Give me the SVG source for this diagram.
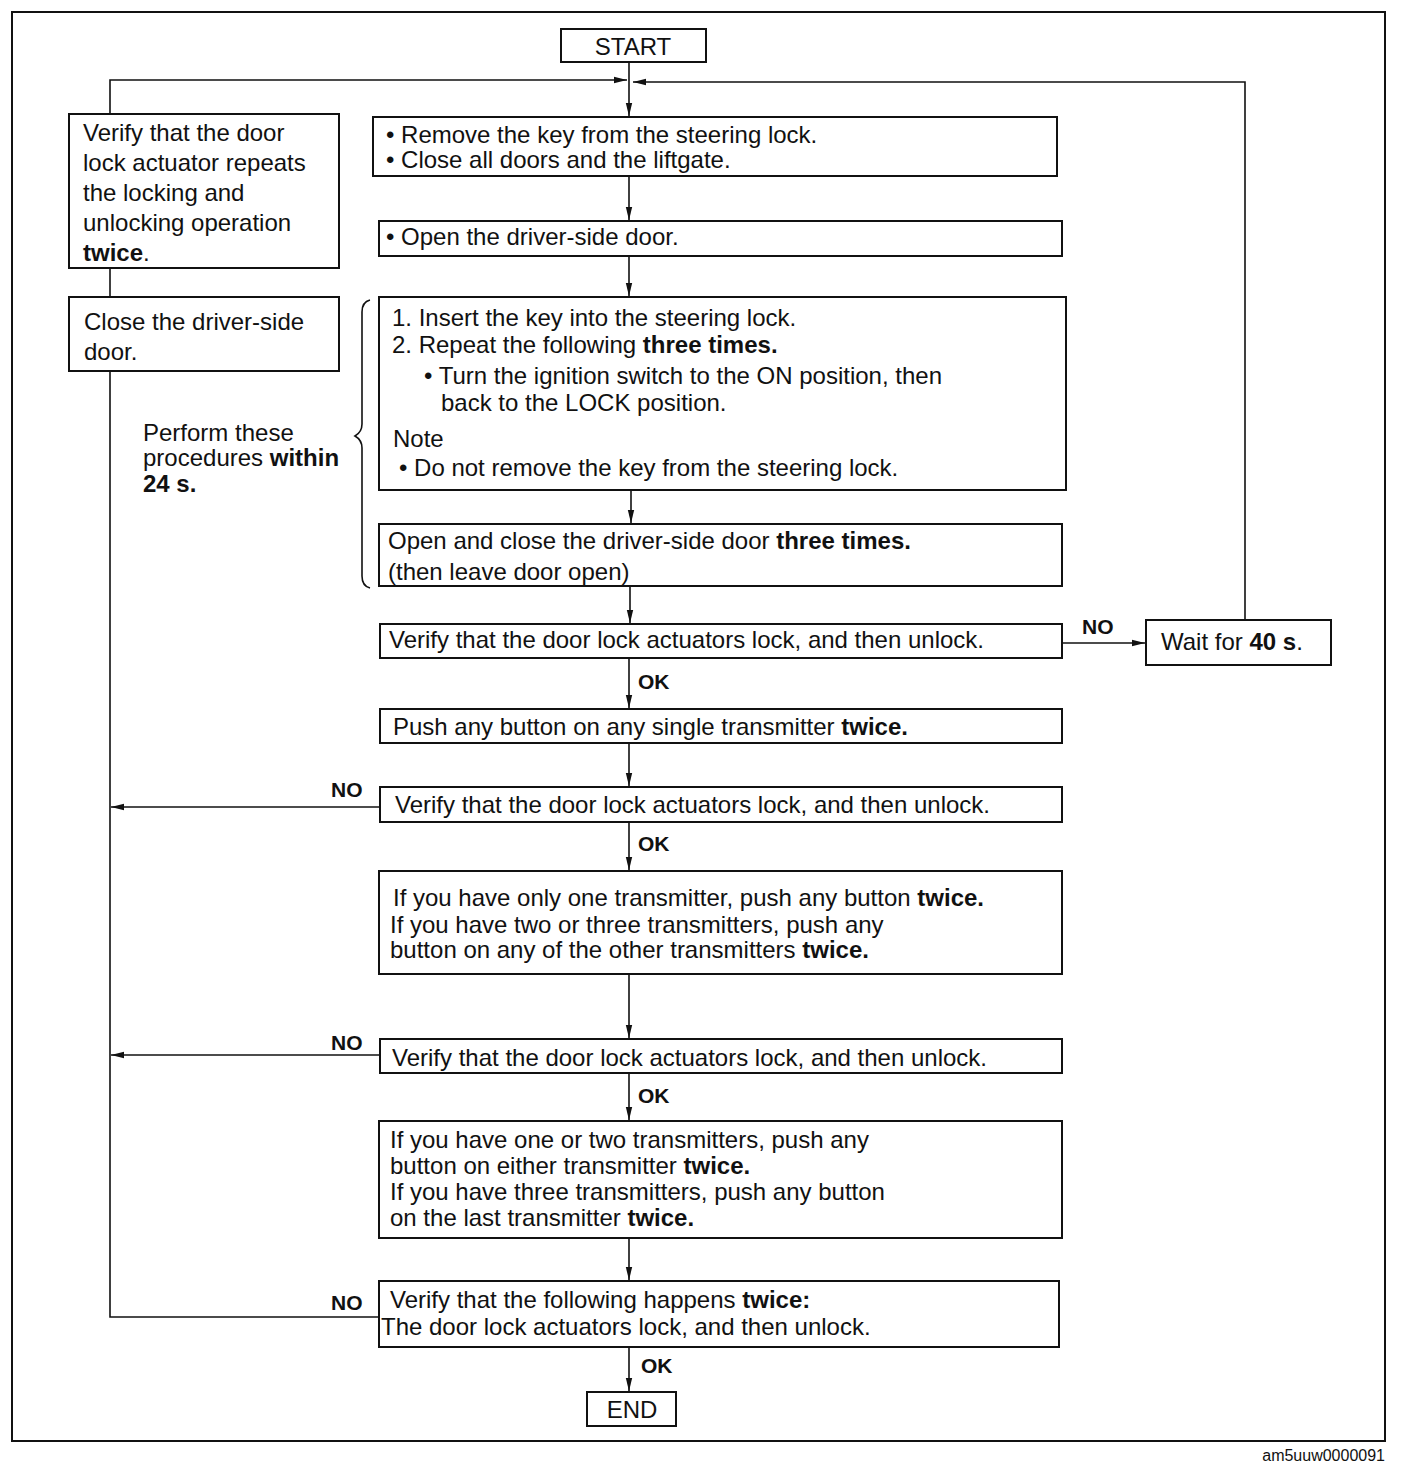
<svg xmlns="http://www.w3.org/2000/svg" width="1408" height="1466" viewBox="0 0 1408 1466">
<defs>
<style>
text{font-family:"Liberation Sans",Arial,sans-serif;font-size:24px;fill:#111}
.b{font-weight:bold}
.lbl{font-size:21px;font-weight:bold}
.box{fill:#fff;stroke:#111;stroke-width:2}
.ln{fill:none;stroke:#111;stroke-width:1.6}
.code{font-size:16px}
</style>
<marker id="ah" markerUnits="userSpaceOnUse" markerWidth="14" markerHeight="8" refX="13" refY="4" orient="auto">
<path d="M0,0.8 L13,4 L0,7.2 Z" fill="#111"/>
</marker>
</defs>
<rect x="0" y="0" width="1408" height="1466" fill="#fff"/>
<rect x="12" y="12" width="1373" height="1429" fill="none" stroke="#111" stroke-width="2"/>

<g id="connectors">
<path class="ln" d="M629,62 V116" marker-end="url(#ah)"/>
<path class="ln" d="M110,114 V80 H627" marker-end="url(#ah)"/>
<path class="ln" d="M1245,620 V82 H633" marker-end="url(#ah)"/>
<path class="ln" d="M629,176 V220" marker-end="url(#ah)"/>
<path class="ln" d="M629,256 V296" marker-end="url(#ah)"/>
<path class="ln" d="M631,490 V523" marker-end="url(#ah)"/>
<path class="ln" d="M630,586 V623" marker-end="url(#ah)"/>
<path class="ln" d="M1062,643 H1145" marker-end="url(#ah)"/>
<path class="ln" d="M629,658 V708" marker-end="url(#ah)"/>
<path class="ln" d="M629,743 V786" marker-end="url(#ah)"/>
<path class="ln" d="M380,807 H111" marker-end="url(#ah)"/>
<path class="ln" d="M629,822 V870" marker-end="url(#ah)"/>
<path class="ln" d="M629,974 V1038" marker-end="url(#ah)"/>
<path class="ln" d="M380,1055 H111" marker-end="url(#ah)"/>
<path class="ln" d="M629,1073 V1120" marker-end="url(#ah)"/>
<path class="ln" d="M629,1238 V1280" marker-end="url(#ah)"/>
<path class="ln" d="M379,1317 H110 V371"/>
<path class="ln" d="M110,297 V268"/>
<path class="ln" d="M629,1347 V1391" marker-end="url(#ah)"/>
<text class="lbl" x="1082" y="634">NO</text>
<text class="lbl" x="638" y="689">OK</text>
<text class="lbl" x="331" y="797">NO</text>
<text class="lbl" x="638" y="851">OK</text>
<text class="lbl" x="331" y="1050">NO</text>
<text class="lbl" x="638" y="1103">OK</text>
<text class="lbl" x="331" y="1310">NO</text>
<text class="lbl" x="641" y="1373">OK</text>
</g>

<g id="start">
<rect class="box" x="561" y="29" width="145" height="33"/>
<text x="633" y="55" text-anchor="middle">START</text>
</g>

<g id="n1">
<rect class="box" x="373" y="117" width="684" height="59"/>
<text x="386" y="143">• Remove the key from the steering lock.</text>
<text x="386" y="168">• Close all doors and the liftgate.</text>
</g>

<g id="n2">
<rect class="box" x="379" y="221" width="683" height="35"/>
<text x="386" y="245">• Open the driver-side door.</text>
</g>

<g id="n3">
<rect class="box" x="379" y="297" width="687" height="193"/>
<text x="392" y="326">1. Insert the key into the steering lock.</text>
<text x="392" y="353">2. Repeat the following <tspan class="b">three times.</tspan></text>
<text x="424" y="384">• Turn the ignition switch to the ON position, then</text>
<text x="441" y="411">back to the LOCK position.</text>
<text x="393" y="447">Note</text>
<text x="399" y="476">• Do not remove the key from the steering lock.</text>
</g>

<g id="n4">
<rect class="box" x="379" y="524" width="683" height="62"/>
<text x="388" y="549">Open and close the driver-side door <tspan class="b">three times.</tspan></text>
<text x="388" y="580">(then leave door open)</text>
</g>

<g id="brace">
<path class="ln" stroke-width="2" d="M370,300 Q362,302 362,312 V424 Q362,432 355,436 Q362,440 362,448 V576 Q362,586 370,588"/>
<text x="143" y="441">Perform these</text>
<text x="143" y="466">procedures <tspan class="b">within</tspan></text>
<text x="143" y="492" class="b">24 s.</text>
</g>

<g id="n5">
<rect class="box" x="380" y="624" width="682" height="34"/>
<text x="389" y="648">Verify that the door lock actuators lock, and then unlock.</text>
</g>

<g id="wait">
<rect class="box" x="1146" y="620" width="185" height="45"/>
<text x="1161" y="650">Wait for <tspan class="b">40 s</tspan>.</text>
</g>

<g id="n6">
<rect class="box" x="380" y="709" width="682" height="34"/>
<text x="393" y="735">Push any button on any single transmitter <tspan class="b">twice.</tspan></text>
</g>

<g id="n7">
<rect class="box" x="380" y="787" width="682" height="35"/>
<text x="395" y="813">Verify that the door lock actuators lock, and then unlock.</text>
</g>

<g id="n8">
<rect class="box" x="379" y="871" width="683" height="103"/>
<text x="393" y="906">If you have only one transmitter, push any button <tspan class="b">twice.</tspan></text>
<text x="390" y="933">If you have two or three transmitters, push any</text>
<text x="390" y="958">button on any of the other transmitters <tspan class="b">twice.</tspan></text>
</g>

<g id="n9">
<rect class="box" x="380" y="1039" width="682" height="34"/>
<text x="392" y="1066">Verify that the door lock actuators lock, and then unlock.</text>
</g>

<g id="n10">
<rect class="box" x="379" y="1121" width="683" height="117"/>
<text x="390" y="1148">If you have one or two transmitters, push any</text>
<text x="390" y="1174">button on either transmitter <tspan class="b">twice.</tspan></text>
<text x="390" y="1200">If you have three transmitters, push any button</text>
<text x="390" y="1226">on the last transmitter <tspan class="b">twice.</tspan></text>
</g>

<g id="n11">
<rect class="box" x="379" y="1281" width="680" height="66"/>
<text x="390" y="1308">Verify that the following happens <tspan class="b">twice:</tspan></text>
<text x="381" y="1335">The door lock actuators lock, and then unlock.</text>
</g>

<g id="end">
<rect class="box" x="587" y="1392" width="89" height="34"/>
<text x="632" y="1418" text-anchor="middle">END</text>
</g>

<g id="l1">
<rect class="box" x="69" y="114" width="270" height="154"/>
<text x="83" y="141">Verify that the door</text>
<text x="83" y="171">lock actuator repeats</text>
<text x="83" y="201">the locking and</text>
<text x="83" y="231">unlocking operation</text>
<text x="83" y="261"><tspan class="b">twice</tspan>.</text>
</g>

<g id="l2">
<rect class="box" x="69" y="297" width="270" height="74"/>
<text x="84" y="330">Close the driver-side</text>
<text x="84" y="360">door.</text>
</g>

<text class="code" x="1385" y="1461" text-anchor="end">am5uuw0000091</text>
</svg>
